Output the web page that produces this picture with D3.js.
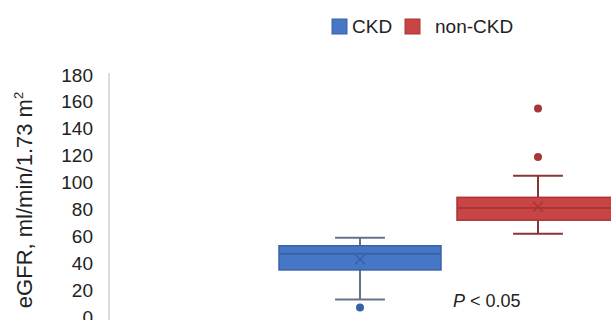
<!DOCTYPE html>
<html>
<head>
    <title>eGFR box plot</title>
    <script src="https://d3js.org/d3.v7.min.js"></script>
    <style>
        body { margin: 0; background: #fff; }
        text { font-family: "Liberation Sans", Arial, sans-serif; }
    </style>
</head>
<body>
    <svg width="611" height="320"></svg>
    <script>
        // Data
        var groups = ["CKD", "non-CKD"];
        var q1 = [35, 72];
        var median = [47, 81];
        var q3 = [53, 89];
        var whiskerLow = [13, 62];
        var whiskerHigh = [59, 105];
        var means = [43, 82];
        var outliers = [[7], [119, 155]];
        var yTicks = [0, 20, 40, 60, 80, 100, 120, 140, 160, 180];

        var fills = ["#4677c6", "#c94444"];
        var strokes = ["#3862a8", "#a83636"];
        var whiskerColors = ["#66728a", "#8a3535"];

        var svg = d3.select("svg");

        var yScale = d3.scaleLinear()
            .domain([0, 180])
            .range([317, 75]);

        // plot area runs off the right edge of the picture
        var xScale = d3.scaleBand()
            .domain(groups)
            .range([271, 627])
            .padding(0);

        var bw = xScale.bandwidth();
        var boxW = bw * 0.91;
        var capW = bw * 0.28;

        // Axis line
        svg.append("line")
            .attr("x1", 109).attr("x2", 109)
            .attr("y1", yScale(180) - 2).attr("y2", 320)
            .attr("stroke", "#dcdcdc")
            .attr("stroke-width", 2);

        // Y axis labels
        var yAxis = d3.axisLeft(yScale)
            .tickValues(yTicks)
            .tickSize(0)
            .tickPadding(16);

        var gy = svg.append("g")
            .attr("transform", "translate(109,0)")
            .call(yAxis);
        gy.select(".domain").remove();
        gy.selectAll("text")
            .style("font-size", "19px")
            .style("font-family", "Liberation Sans, Arial, sans-serif")
            .attr("fill", "#222");

        // Y title
        svg.append("text")
            .attr("transform", "translate(32,200) rotate(-90)")
            .attr("text-anchor", "middle")
            .style("font-size", "22px")
            .attr("fill", "#222")
            .text("eGFR, ml/min/1.73 m")
            .append("tspan")
            .attr("dy", -9)
            .style("font-size", "13px")
            .text("2");

        // Boxes
        var g = svg.selectAll(".grp")
            .data(groups)
            .enter()
            .append("g")
            .attr("class", "grp");

        g.each(function(d, i) {
            var sel = d3.select(this);
            var cx = xScale(d) + bw / 2;

            // whisker stems
            sel.append("line")
                .attr("x1", cx).attr("x2", cx)
                .attr("y1", yScale(whiskerHigh[i])).attr("y2", yScale(q3[i]))
                .attr("stroke", whiskerColors[i]).attr("stroke-width", 2);
            sel.append("line")
                .attr("x1", cx).attr("x2", cx)
                .attr("y1", yScale(q1[i])).attr("y2", yScale(whiskerLow[i]))
                .attr("stroke", whiskerColors[i]).attr("stroke-width", 2);
            // caps
            [whiskerHigh[i], whiskerLow[i]].forEach(function(v) {
                sel.append("line")
                    .attr("x1", cx - capW / 2).attr("x2", cx + capW / 2)
                    .attr("y1", yScale(v)).attr("y2", yScale(v))
                    .attr("stroke", whiskerColors[i]).attr("stroke-width", 2);
            });

            // box
            sel.append("rect")
                .attr("x", cx - boxW / 2)
                .attr("y", yScale(q3[i]))
                .attr("width", boxW)
                .attr("height", yScale(q1[i]) - yScale(q3[i]))
                .attr("fill", fills[i])
                .attr("stroke", strokes[i])
                .attr("stroke-width", 1.5);

            // median
            sel.append("line")
                .attr("x1", cx - boxW / 2).attr("x2", cx + boxW / 2)
                .attr("y1", yScale(median[i])).attr("y2", yScale(median[i]))
                .attr("stroke", strokes[i]).attr("stroke-width", 2);

            // mean marker (x)
            var my = yScale(means[i]), s = 5;
            sel.append("path")
                .attr("d", "M" + (cx - s) + "," + (my - s) + "L" + (cx + s) + "," + (my + s) +
                           "M" + (cx + s) + "," + (my - s) + "L" + (cx - s) + "," + (my + s))
                .attr("stroke", strokes[i]).attr("stroke-width", 1.5)
                .attr("fill", "none");

            // outliers
            sel.selectAll("circle")
                .data(outliers[i])
                .enter()
                .append("circle")
                .attr("cx", cx)
                .attr("cy", function(v) { return yScale(v); })
                .attr("r", 4)
                .attr("fill", strokes[i]);
        });

        // Legend
        var legend = svg.append("g");
        var legX = [332, 405];
        var legTextX = [352, 435];
        groups.forEach(function(name, i) {
            legend.append("rect")
                .attr("x", legX[i]).attr("y", 19)
                .attr("width", 15).attr("height", 15)
                .attr("fill", fills[i])
                .attr("stroke", strokes[i]);
            legend.append("text")
                .attr("x", legTextX[i]).attr("y", 33)
                .style("font-size", "19px")
                .attr("fill", "#222")
                .text(name);
        });

        // Significance note
        var note = svg.append("text")
            .attr("x", 453).attr("y", 307)
            .style("font-size", "18px")
            .attr("fill", "#222");
        note.append("tspan").style("font-style", "italic").text("P");
        note.append("tspan").text(" < 0.05");
    </script>
</body>
</html>
